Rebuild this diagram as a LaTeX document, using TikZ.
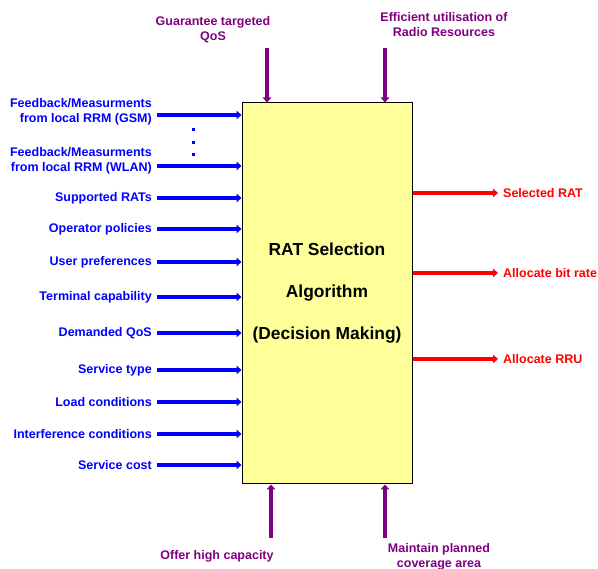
\documentclass[tikz,border=0pt]{standalone}
\usepackage{fontspec}
\setmainfont{Liberation Sans}
\usepackage{xcolor}
\usepackage{tikz}
\usetikzlibrary{positioning, arrows.meta}

\definecolor{inblue}{RGB}{0,0,255}
\definecolor{outred}{RGB}{255,0,0}
\definecolor{goalpurple}{RGB}{128,0,128}
\definecolor{boxyellow}{RGB}{255,255,153}

\tikzset{
  lbl/.style={font=\bfseries\fontsize{12.5}{15}\selectfont, inner ysep=0pt, inner xsep=5pt},
  inlbl/.style={lbl, text=inblue, anchor=east, align=right},
  outlbl/.style={lbl, text=outred, anchor=west},
  goallbl/.style={lbl, text=goalpurple, align=center},
  arr/.style={line width=3.2pt, -{Triangle[length=5pt,width=8.5pt]}},
  inarr/.style={arr, inblue},
  outarr/.style={arr, outred},
  goalarr/.style={arr, goalpurple},
}

\begin{document}
\begin{tikzpicture}[x=1pt,y=1pt]
\useasboundingbox (0,0) rectangle (598,569);
% decision block
\node[draw, line width=1pt, fill=boxyellow, minimum width=170pt, minimum height=381pt, inner sep=0pt,
  align=center, font=\bfseries\fontsize{17.4}{42}\selectfont] (rsa) at (327,275.5)
  {RAT Selection\\Algorithm\\(Decision Making)};
% inputs
\node[inlbl] (fbgsm) at (157,457) {Feedback/Measurments\\from local RRM (GSM)};
\node[inlbl] (fbwlan) at (157,408) {Feedback/Measurments\\from local RRM (WLAN)};
\draw[inarr] ([yshift=-3pt]fbgsm.east) -- ([yshift=-3pt]fbgsm.east -| rsa.west);
\draw[inarr] ([yshift=-5pt]fbwlan.east) -- ([yshift=-5pt]fbwlan.east -| rsa.west);
\foreach \yy in {439,426,414}
  \fill[inblue] (191.5,\yy-1.5) rectangle +(3,3);
\foreach \txt/\yy [count=\i] in {Supported RATs/371, Operator policies/340, User preferences/307,
  Terminal capability/272, Demanded QoS/236, Service type/199, Load conditions/167,
  Interference conditions/135, Service cost/104}
{
  \node[inlbl] (in\i) at (157,\yy) {\txt};
  \draw[inarr] (in\i.east) -- (in\i.east -| rsa.west);
}
% outputs
\node[outlbl] (selrat) at (498,376) {Selected RAT};
\node[outlbl] (allocbr) at (498,296) {Allocate bit rate};
\node[outlbl] (allocrru) at (498,210) {Allocate RRU};
\draw[outarr] (selrat.west -| rsa.east) -- (selrat.west);
\draw[outarr] (allocbr.west -| rsa.east) -- (allocbr.west);
\draw[outarr] (allocrru.west -| rsa.east) -- (allocrru.west);
% objectives
\node[goallbl] (qos) at (213,539.5) {Guarantee targeted\\QoS};
\node[goallbl] (effic) at (444,544) {Efficient utilisation of\\Radio Resources};
\node[goallbl] (capac) at (217,13) {Offer high capacity};
\node[goallbl] (cover) at (439,12) {Maintain planned\\coverage area};
\coordinate (tq) at (267,521);
\coordinate (te) at (385,521);
\coordinate (bc) at (271,31);
\coordinate (bv) at (385,31);
\draw[goalarr] (tq) -- (tq |- rsa.north);
\draw[goalarr] (te) -- (te |- rsa.north);
\draw[goalarr] (bc) -- (bc |- rsa.south);
\draw[goalarr] (bv) -- (bv |- rsa.south);
\end{tikzpicture}
\end{document}
